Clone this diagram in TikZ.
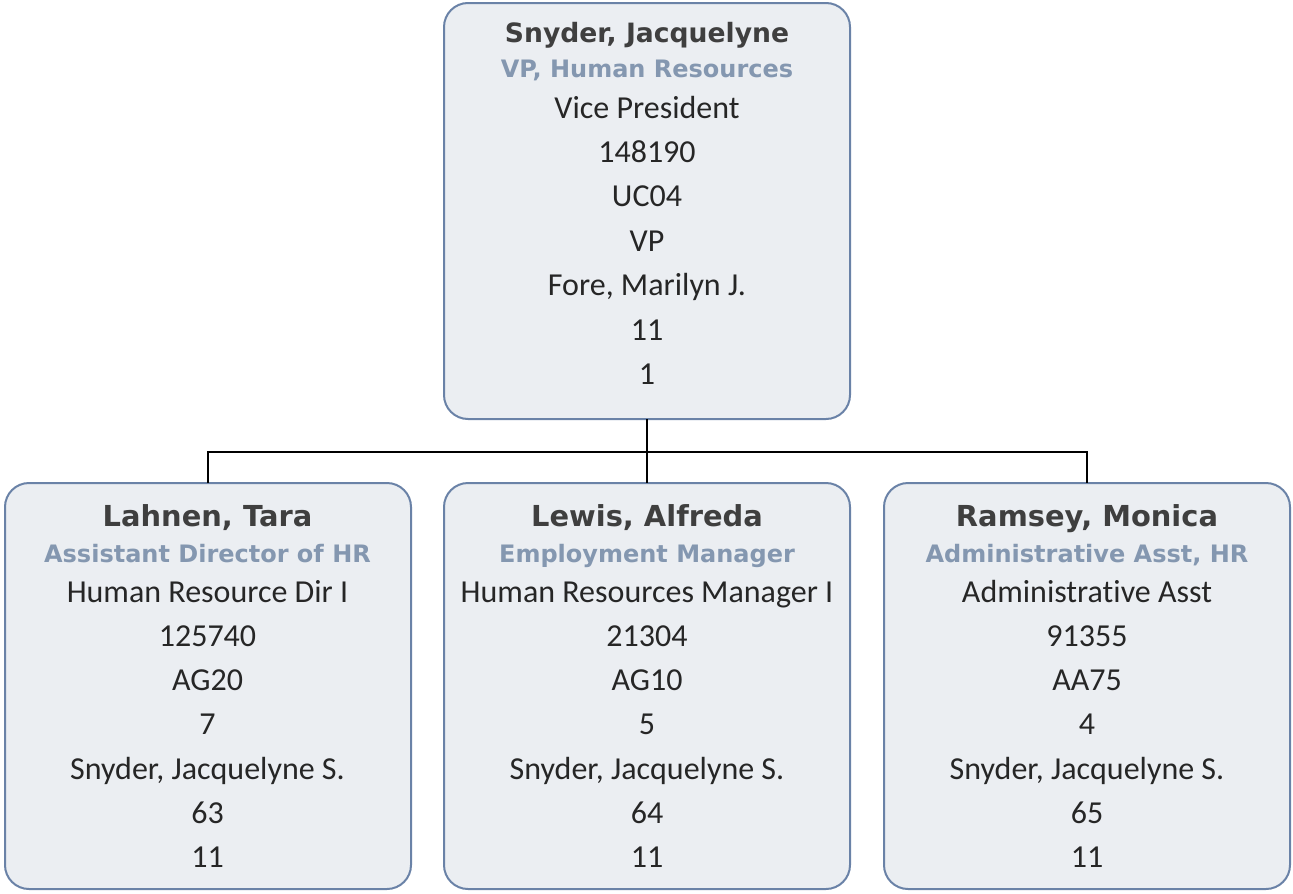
\documentclass[tikz,border=0pt]{standalone}
\usepackage{fontspec}
\setmainfont{Carlito}[Ligatures=CommonOff]
\newfontfamily\vfont{DejaVu Sans}
\definecolor{bordercol}{HTML}{6A82A7}
\definecolor{fillcol}{HTML}{EBEEF2}
\definecolor{namecol}{HTML}{3F3F3F}
\definecolor{titlecol}{HTML}{8497B0}
\definecolor{bodycol}{HTML}{262626}
\begin{document}
\begin{tikzpicture}[x=1pt,y=-1pt,
  card/.style={draw=bordercol, line width=2pt, fill=fillcol, rounded corners=24pt,
    minimum width=406pt, minimum height=416pt, inner sep=0pt, outer sep=0pt, anchor=north west},
  subcard/.style={card, minimum height=406pt},
  conn/.style={draw=black, line width=2pt},
  tname/.style={anchor=base, inner sep=0pt, text=namecol, font=\vfont\bfseries\fontsize{26.6}{30}\selectfont},
  bname/.style={tname, font=\vfont\bfseries\fontsize{28.9}{32}\selectfont},
  ptitle/.style={anchor=base, inner sep=0pt, text=titlecol, font=\vfont\bfseries\fontsize{24}{28}\selectfont},
  pbody/.style={anchor=base, inner sep=0pt, text=bodycol, font=\fontsize{32}{36}\selectfont}]
\useasboundingbox (0,0) rectangle (1293,894);
% boxes
\node[card] (top) at (444,3) {};
\node[subcard] (c1) at (5,483) {};
\node[subcard] (c2) at (444,483) {};
\node[subcard] (c3) at (884,483) {};
% connectors
\draw[conn] (top.south) -- (c2.north);
\draw[conn] (c1.north) -- ++(0,-31) coordinate (jl) -| (c3.north);
% top card text
\node[tname] (top-n) at (647,42) {Snyder, Jacquelyne};
\node[ptitle] (top-t) at (647,77) {VP, Human Resources};
\foreach \t [count=\i] in {Vice President,148190,UC04,VP,{Fore, Marilyn J.},11,1}
  \node[pbody] (top-\i) at (647,{118+44.4*(\i-1)}) {\t};
% card 1
\node[bname] (c1-n) at (207.5,526) {Lahnen, Tara};
\node[ptitle] (c1-t) at (207.5,562) {Assistant Director of HR};
\foreach \t [count=\i] in {Human Resource Dir I,125740,AG20,7,{Snyder, Jacquelyne S.},63,11}
  \node[pbody] (c1-\i) at (207.5,{602+44.3*(\i-1)}) {\t};
% card 2
\node[bname] (c2-n) at (647,526) {Lewis, Alfreda};
\node[ptitle] (c2-t) at (647,562) {Employment Manager};
\foreach \t [count=\i] in {Human Resources Manager I,21304,AG10,5,{Snyder, Jacquelyne S.},64,11}
  \node[pbody] (c2-\i) at (647,{602+44.3*(\i-1)}) {\t};
% card 3
\node[bname] (c3-n) at (1087,526) {Ramsey, Monica};
\node[ptitle] (c3-t) at (1087,562) {Administrative Asst, HR};
\foreach \t [count=\i] in {Administrative Asst,91355,AA75,4,{Snyder, Jacquelyne S.},65,11}
  \node[pbody] (c3-\i) at (1087,{602+44.3*(\i-1)}) {\t};
\end{tikzpicture}
\end{document}
